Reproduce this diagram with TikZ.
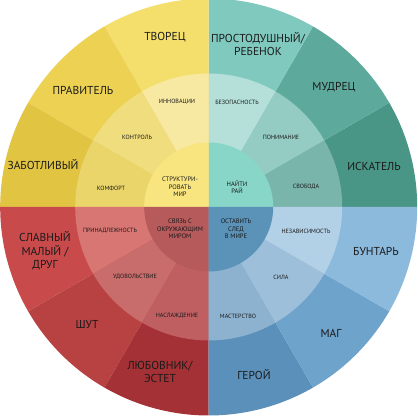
\documentclass[tikz,border=0pt]{standalone}
\usepackage{fontspec}
\setmainfont{PT Sans}
\definecolor{txt}{HTML}{1A1A1A}
% yellow
\definecolor{yo1}{HTML}{F4DE6C}\definecolor{yo2}{HTML}{ECD152}\definecolor{yo3}{HTML}{E2C443}
\definecolor{ym1}{HTML}{F7E9A2}\definecolor{ym2}{HTML}{F0DD7D}\definecolor{ym3}{HTML}{EAD56B}
\definecolor{yin}{HTML}{F9E580}
% teal
\definecolor{to1}{HTML}{80C9BE}\definecolor{to2}{HTML}{5DAA9C}\definecolor{to3}{HTML}{4A9686}
\definecolor{tm1}{HTML}{B4E0D9}\definecolor{tm2}{HTML}{94CBC2}\definecolor{tm3}{HTML}{7AB5AB}
\definecolor{tin}{HTML}{88D6C8}
% red
\definecolor{ro1}{HTML}{C94A4B}\definecolor{ro2}{HTML}{B84142}\definecolor{ro3}{HTML}{A43135}
\definecolor{rm1}{HTML}{D87674}\definecolor{rm2}{HTML}{C96C6C}\definecolor{rm3}{HTML}{BF5F62}
\definecolor{rin}{HTML}{B65A5B}
% blue
\definecolor{bo1}{HTML}{8CBADD}\definecolor{bo2}{HTML}{6EA3CC}\definecolor{bo3}{HTML}{5B90BB}
\definecolor{bm1}{HTML}{B2D0E6}\definecolor{bm2}{HTML}{9DBFDA}\definecolor{bm3}{HTML}{8CB2CF}
\definecolor{bin}{HTML}{5A92B8}
\begin{document}
\begin{tikzpicture}[x=1pt,y=1pt,
  big/.style={font=\fontsize{11.5}{13.5}\selectfont, align=center, text=txt, inner sep=0pt},
  mid/.style={font=\fontsize{6.1}{7}\selectfont, align=center, text=txt, inner sep=0pt},
  core/.style={font=\fontsize{6.5}{7.6}\selectfont, align=center, text=txt, inner sep=0pt}]
\useasboundingbox (0,0) rectangle (418,417);
\fill[white] (0,0) rectangle (418,417);
\coordinate (c) at (208.7,210);
% outer ring
\foreach \a/\col in {0/to3,30/to2,60/to1,90/yo1,120/yo2,150/yo3,180/ro1,210/ro2,240/ro3,270/bo3,300/bo2,330/bo1}
  \fill[\col] (c) -- ++(\a:208.5) arc[start angle=\a, end angle=\a+30, radius=208.5] -- cycle;
% middle ring
\foreach \a/\col in {0/tm3,30/tm2,60/tm1,90/ym1,120/ym2,150/ym3,180/rm1,210/rm2,240/rm3,270/bm3,300/bm2,330/bm1}
  \fill[\col] (c) -- ++(\a:133.5) arc[start angle=\a, end angle=\a+30, radius=133.5] -- cycle;
% inner circle
\foreach \a/\col in {0/tin,90/yin,180/rin,270/bin}
  \fill[\col] (c) -- ++(\a:64.5) arc[start angle=\a, end angle=\a+90, radius=64.5] -- cycle;
% outer labels
\node[big] (tvorec) at (165,380) {ТВОРЕЦ};
\node[big] (pravitel) at (83,327) {ПРАВИТЕЛЬ};
\node[big] (zabotl) at (43,252) {ЗАБОТЛИВЫЙ};
\node[big] (prost) at (258,373) {ПРОСТОДУШНЫЙ/\\РЕБЕНОК};
\node[big] (mudrec) at (334,330) {МУДРЕЦ};
\node[big] (iskatel) at (374,251) {ИСКАТЕЛЬ};
\node[big] (drug) at (45,166) {СЛАВНЫЙ\\МАЛЫЙ /\\ДРУГ};
\node[big] (shut) at (87,92) {ШУТ};
\node[big] (lubov) at (160,45) {ЛЮБОВНИК/\\ЭСТЕТ};
\node[big] (buntar) at (376,166) {БУНТАРЬ};
\node[big] (mag) at (331,84) {МАГ};
\node[big] (geroy) at (254,42) {ГЕРОЙ};
% middle labels
\node[mid] (innov) at (177,315) {ИННОВАЦИИ};
\node[mid] (kontrol) at (137,280) {КОНТРОЛЬ};
\node[mid] (komfort) at (111,229) {КОМФОРТ};
\node[mid] (bezop) at (237,315) {БЕЗОПАСНОСТЬ};
\node[mid] (poniman) at (281,280) {ПОНИМАНИЕ};
\node[mid] (svoboda) at (306,230) {СВОБОДА};
\node[mid] (prinadl) at (110,186) {ПРИНАДЛЕЖНОСТЬ};
\node[mid] (udovol) at (135,140) {УДОВОЛЬСТВИЕ};
\node[mid] (naslazh) at (177,101) {НАСЛАЖДЕНИЕ};
\node[mid] (nezav) at (306,186) {НЕЗАВИСИМОСТЬ};
\node[mid] (sila) at (281,140) {СИЛА};
\node[mid] (master) at (238,101) {МАСТЕРСТВО};
% core labels
\node[core] (strukt) at (180,230) {СТРУКТУРИ-\\РОВАТЬ\\МИР};
\node[core] (ray) at (237,230) {НАЙТИ\\РАЙ};
\node[core] (svyaz) at (180,188) {СВЯЗЬ С\\ОКРУЖАЮЩИМ\\МИРОМ};
\node[core] (sled) at (236,188) {ОСТАВИТЬ\\СЛЕД\\В МИРЕ};
\end{tikzpicture}
\end{document}
